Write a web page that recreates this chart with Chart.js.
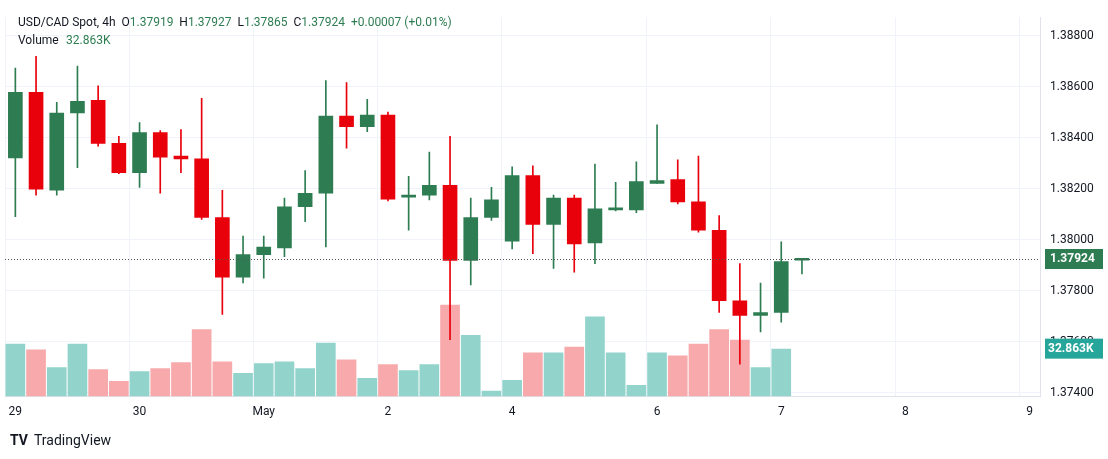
<!DOCTYPE html>
<html>
<head>
<meta charset="utf-8">
<script src="https://cdn.jsdelivr.net/npm/chart.js@4.4.1/dist/chart.umd.min.js"></script>
<style>
  body { margin: 0; background: #fff; }
  canvas { display: block; }
</style>
</head>
<body>
<canvas id="chart" width="1108" height="459"></canvas>
<script>
// --- DATOS ---
const opens  = [1.38321,1.38578,1.38194,1.38497,1.38547,1.38378,1.38263,1.38420,1.38328,1.38317,1.38087,1.37853,1.37941,1.37968,1.38129,1.38182,1.38485,1.38443,1.38489,1.38167,1.38175,1.38213,1.37918,1.38087,1.37994,1.38251,1.38060,1.38163,1.37987,1.38117,1.38117,1.38221,1.38236,1.38148,1.38037,1.37760,1.37703,1.37714,1.37919];
const highs  = [1.38673,1.38719,1.38539,1.38681,1.38604,1.38405,1.38459,1.38428,1.38432,1.38555,1.38194,1.38014,1.38014,1.38163,1.38271,1.38624,1.38616,1.38551,1.38501,1.38248,1.38344,1.38405,1.38163,1.38205,1.38286,1.38290,1.38175,1.38175,1.38297,1.38225,1.38305,1.38451,1.38313,1.38328,1.38094,1.37906,1.37830,1.37991,1.37927];
const lows   = [1.38090,1.38175,1.38175,1.38282,1.38367,1.38259,1.38205,1.38182,1.38263,1.38079,1.37707,1.37830,1.37849,1.37933,1.38071,1.37971,1.38359,1.38424,1.38152,1.38037,1.38156,1.37607,1.37822,1.38075,1.37964,1.37945,1.37887,1.37872,1.37906,1.38113,1.38106,1.38221,1.38140,1.38029,1.37714,1.37511,1.37638,1.37676,1.37865];
const closes = [1.38578,1.38198,1.38497,1.38543,1.38378,1.38263,1.38420,1.38324,1.38317,1.38087,1.37853,1.37941,1.37971,1.38129,1.38182,1.38485,1.38443,1.38489,1.38159,1.38175,1.38213,1.37918,1.38087,1.38156,1.38251,1.38060,1.38163,1.37983,1.38121,1.38121,1.38228,1.38232,1.38148,1.38037,1.37760,1.37703,1.37714,1.37914,1.37924];
const volumes = [36.2,32.2,20.1,36.2,18.8,10.7,17.4,19.4,23.5,46.2,24.1,16.1,22.8,24.1,19.4,36.9,25.5,12.7,22.1,18.1,22.1,63.0,42.2,4.0,11.4,30.2,30.2,34.2,54.9,30.2,8.0,30.2,28.1,36.2,46.2,38.9,20.1,32.863];
const dayLabels = {0:'29', 6:'30', 12:'May', 18:'2', 24:'4', 31:'6', 37:'7', 43:'8', 49:'9'};
const priceTicks = [1.374,1.376,1.378,1.380,1.382,1.384,1.386,1.388];
const lastPrice = 1.37924;
const lastVolume = '32.863K';

const GREEN = '#2e7d52';
const RED = '#e8000b';
const VOL_GREEN = '#92d4cc';
const VOL_RED = '#f7a9ab';

const slots = Array.from({length: 50}, (_, i) => i);
const isUp = opens.map((o, i) => closes[i] >= o);

const lastLinePlugin = {
    id: 'lastLine',
    afterDraw(chart) {
        const ctx = chart.ctx;
        const area = chart.chartArea;
        const y = chart.scales.y.getPixelForValue(lastPrice);
        ctx.save();
        ctx.strokeStyle = '#555';
        ctx.setLineDash([1, 2]);
        ctx.lineWidth = 1;
        ctx.beginPath();
        ctx.moveTo(area.left, y + 0.5);
        ctx.lineTo(area.right, y + 0.5);
        ctx.stroke();
        ctx.setLineDash([]);

        // etiquetas del eje derecho
        ctx.font = 'bold 12px Roboto, sans-serif';
        ctx.textBaseline = 'middle';
        ctx.fillStyle = GREEN;
        ctx.fillRect(area.right + 5, y - 10, 58, 20);
        ctx.fillStyle = '#fff';
        ctx.fillText(lastPrice.toFixed(5), area.right + 10, y);

        const vy = chart.scales.yv.getPixelForValue(volumes[volumes.length - 1]);
        ctx.fillStyle = '#26a69a';
        ctx.fillRect(area.right + 5, vy - 10, 58, 20);
        ctx.fillStyle = '#fff';
        ctx.fillText(lastVolume, area.right + 8, vy);

        // leyenda
        ctx.font = '12px Roboto, sans-serif';
        ctx.textBaseline = 'middle';
        let x = 18;
        const parts = [
            ['USD/CAD Spot, 4h  ', '#131722'],
            ['O', '#131722'], ['1.37919  ', GREEN],
            ['H', '#131722'], ['1.37927  ', GREEN],
            ['L', '#131722'], ['1.37865  ', GREEN],
            ['C', '#131722'], ['1.37924  ', GREEN],
            ['+0.00007 (+0.01%)', GREEN]
        ];
        parts.forEach(([t, c]) => {
            ctx.fillStyle = c;
            ctx.fillText(t, x, 23);
            x += ctx.measureText(t).width;
        });
        ctx.fillStyle = '#131722';
        ctx.fillText('Volume', 18, 41);
        ctx.fillStyle = GREEN;
        ctx.fillText('32.863K', 66, 41);

        // logo
        ctx.fillStyle = '#131722';
        ctx.font = 'bold 14px Roboto, sans-serif';
        ctx.fillText('TV', 10, 441);
        ctx.font = '14px Roboto, sans-serif';
        ctx.fillText('TradingView', 34, 441);
        ctx.restore();
    }
};

new Chart(document.getElementById('chart'), {
    type: 'bar',
    data: {
        labels: slots,
        datasets: [
            {
                label: 'wick',
                data: lows.map((l, i) => [l, highs[i]]),
                backgroundColor: isUp.map(u => u ? GREEN : RED),
                barThickness: 1,
                grouped: false,
                yAxisID: 'y',
                order: 1
            },
            {
                label: 'body',
                data: opens.map((o, i) => [o, closes[i]]),
                backgroundColor: isUp.map(u => u ? GREEN : RED),
                barThickness: 14,
                minBarLength: 2,
                grouped: false,
                yAxisID: 'y',
                order: 0
            },
            {
                label: 'volume',
                data: volumes,
                backgroundColor: volumes.map((v, i) => isUp[i] ? VOL_GREEN : VOL_RED),
                barPercentage: 1,
                categoryPercentage: 0.95,
                grouped: false,
                yAxisID: 'yv',
                order: 2
            }
        ]
    },
    options: {
        responsive: false,
        animation: false,
        layout: { padding: { left: 5, right: 0, top: 1, bottom: 32 } },
        plugins: { legend: { display: false }, tooltip: { enabled: false } },
        scales: {
            x: {
                grid: {
                    color: ctx => dayLabels[ctx.index] !== undefined ? '#f0f3fa' : 'transparent',
                    drawTicks: false
                },
                border: { color: '#e0e3eb' },
                ticks: {
                    autoSkip: false,
                    maxRotation: 0,
                    padding: 8,
                    color: '#131722',
                    font: { size: 12, family: 'Roboto, sans-serif' },
                    callback: (v, i) => dayLabels[i] || ''
                }
            },
            y: {
                position: 'right',
                min: 1.37384,
                max: 1.38873,
                afterBuildTicks: axis => { axis.ticks = priceTicks.map(v => ({ value: v })); },
                afterFit: axis => { axis.width = 68; },
                grid: { color: '#f0f3fa', drawTicks: false },
                border: { color: '#e0e3eb' },
                ticks: {
                    padding: 10,
                    color: '#131722',
                    font: { size: 12, family: 'Roboto, sans-serif' },
                    callback: v => v.toFixed(5)
                }
            },
            yv: {
                display: false,
                min: 0,
                max: 260
            }
        }
    },
    plugins: [lastLinePlugin]
});
</script>
</body>
</html>
